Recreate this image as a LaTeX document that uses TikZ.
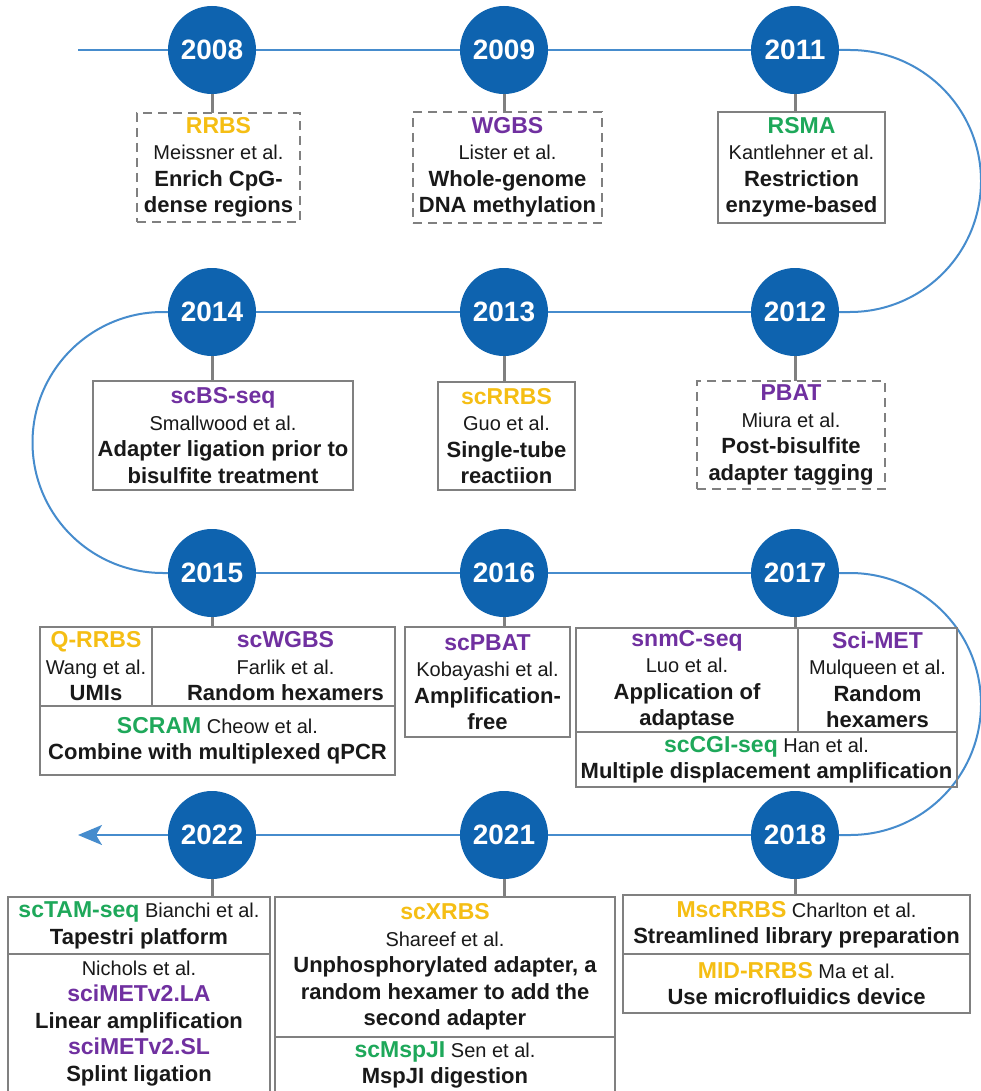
\documentclass[tikz,border=0pt]{standalone}
\usepackage{fontspec}
\setmainfont{Liberation Sans}
\usetikzlibrary{arrows.meta}
\definecolor{cblue}{RGB}{14,99,175}
\definecolor{cline}{RGB}{70,140,205}
\definecolor{cyel}{RGB}{245,190,20}
\definecolor{cpur}{RGB}{112,48,160}
\definecolor{cgrn}{RGB}{30,168,90}
\definecolor{cgray}{RGB}{128,128,128}
\definecolor{ctext}{RGB}{25,25,25}
\newcommand{\mtl}[2]{{\fontsize{23}{26.5}\selectfont\bfseries\color{#1}#2}}
\newcommand{\mds}[1]{{\fontsize{22}{26.5}\selectfont\bfseries #1}}
\begin{document}
\begin{tikzpicture}[x=1pt,y=-1pt,
  yr/.style={circle, fill=cblue, minimum size=88pt, inner sep=0pt, text=white,
    font=\fontsize{28}{30}\selectfont\bfseries},
  cellbox/.style={draw=cgray, line width=2.5pt, inner sep=1pt, outer sep=0pt, align=center,
    anchor=north west, font=\fontsize{20}{26.5}\selectfont, text=ctext},
  dbox/.style={cellbox, dash pattern=on 9pt off 6pt},
  tl/.style={draw=cline, line width=2pt},
  stem/.style={draw=cgray, line width=3pt}]
\useasboundingbox (0,0) rectangle (981,1091);
\clip (0,0) rectangle (981,1091);
\fill[white] (0,0) rectangle (981,1091);

% year circles
\node[yr] (c2008) at (212,50) {2008};
\node[yr] (c2009) at (504,50) {2009};
\node[yr] (c2011) at (795,50) {2011};
\node[yr] (c2014) at (212,312) {2014};
\node[yr] (c2013) at (504,312) {2013};
\node[yr] (c2012) at (795,312) {2012};
\node[yr] (c2015) at (212,573) {2015};
\node[yr] (c2016) at (504,573) {2016};
\node[yr] (c2017) at (795,573) {2017};
\node[yr] (c2022) at (212,835) {2022};
\node[yr] (c2021) at (504,835) {2021};
\node[yr] (c2018) at (795,835) {2018};

% timeline coordinates
\coordinate (start) at (78,50);
\coordinate (r1) at (850,50);
\coordinate (l1) at (163,312);
\coordinate (r2) at (850,573);
\coordinate (arrowend) at (78,835);

% timeline
\draw[tl] (start) -- (c2008);
\draw[tl] (c2008) -- (c2009);
\draw[tl] (c2009) -- (c2011);
\draw[tl] (c2011.east) -- (r1) arc[start angle=90, end angle=-90, radius=131pt] -- (c2012.east);
\draw[tl] (c2012) -- (c2013);
\draw[tl] (c2013) -- (c2014);
\draw[tl] (c2014.west) -- (l1) arc[start angle=90, end angle=270, radius=130.5pt] -- (c2015.west);
\draw[tl] (c2015) -- (c2016);
\draw[tl] (c2016) -- (c2017);
\draw[tl] (c2017.east) -- (r2) arc[start angle=90, end angle=-90, radius=131pt] -- (c2018.east);
\draw[tl] (c2018) -- (c2021);
\draw[tl] (c2021) -- (c2022);
\draw[tl, -{Stealth[length=24pt, width=20pt, inset=6pt]}] (c2022) -- (arrowend);

% boxes row 1
\node[dbox, minimum width=163pt, minimum height=109pt] (bRRBS) at (137,113)
  {\mtl{cyel}{RRBS}\\Meissner et al.\\\mds{Enrich CpG-}\\\mds{dense regions}};
\node[dbox, minimum width=189pt, minimum height=111pt] (bWGBS) at (413,112)
  {\mtl{cpur}{WGBS}\\Lister et al.\\\mds{Whole-genome}\\\mds{DNA methylation}};
\node[cellbox, minimum width=167pt, minimum height=111pt] (bRSMA) at (718,112)
  {\mtl{cgrn}{RSMA}\\Kantlehner et al.\\\mds{Restriction}\\\mds{enzyme-based}};

% row 2
\node[cellbox, minimum width=260pt, minimum height=109pt] (bscBS) at (93,381)
  {\mtl{cpur}{scBS-seq}\\Smallwood et al.\\\mds{Adapter ligation prior to}\\\mds{bisulfite treatment}};
\node[cellbox, minimum width=137pt, minimum height=108pt] (bscRRBS) at (438,382)
  {\mtl{cyel}{scRRBS}\\Guo et al.\\\mds{Single-tube}\\\mds{reactiion}};
\node[dbox, minimum width=188pt, minimum height=108pt] (bPBAT) at (697,381)
  {\mtl{cpur}{PBAT}\\Miura et al.\\\mds{Post-bisulfite}\\\mds{adapter tagging}};

% row 3
\node[cellbox, minimum width=112pt, minimum height=79pt] (bQRRBS) at (40,627)
  {\mtl{cyel}{Q-RRBS}\\Wang et al.\\\mds{UMIs}};
\node[cellbox, minimum width=243pt, minimum height=79pt] (bscWGBS) at (152,627)
  {\hspace*{24pt}\mtl{cpur}{scWGBS}\\\hspace*{24pt}Farlik et al.\\\hspace*{24pt}\mds{Random hexamers}};
\node[cellbox, minimum width=355pt, minimum height=69pt] (bSCRAM) at (40,706)
  {\mtl{cgrn}{SCRAM} Cheow et al.\\\mds{Combine with multiplexed qPCR}};
\node[cellbox, minimum width=165pt, minimum height=110pt] (bscPBAT) at (405,627)
  {\mtl{cpur}{scPBAT}\\Kobayashi et al.\\\mds{Amplification-}\\\mds{free}};
\node[cellbox, minimum width=222pt, minimum height=104pt] (bsnmC) at (576,628)
  {\mtl{cpur}{snmC-seq}\\Luo et al.\\\mds{Application of}\\\mds{adaptase}};
\node[cellbox, minimum width=159pt, minimum height=104pt] (bSciMET) at (798,628)
  {\mtl{cpur}{Sci-MET}\\Mulqueen et al.\\\mds{Random}\\\mds{hexamers}};
\node[cellbox, minimum width=381pt, minimum height=55pt] (bscCGI) at (576,732)
  {\mtl{cgrn}{scCGI-seq} Han et al.\\\mds{Multiple displacement amplification}};

% row 4
\node[cellbox, minimum width=347pt, minimum height=59pt] (bMscRRBS) at (623,895)
  {\mtl{cyel}{MscRRBS} Charlton et al.\\\mds{Streamlined library preparation}};
\node[cellbox, minimum width=347pt, minimum height=59pt] (bMIDRRBS) at (623,954)
  {\mtl{cyel}{MID-RRBS} Ma et al.\\\mds{Use microfluidics device}};
\node[cellbox, minimum width=262pt, minimum height=57pt] (bscTAM) at (8,897)
  {\mtl{cgrn}{scTAM-seq} Bianchi et al.\\\mds{Tapestri platform}};
\node[cellbox, minimum width=262pt, minimum height=139pt] (bNichols) at (8,954)
  {Nichols et al.\\\mtl{cpur}{sciMETv2.LA}\\\mds{Linear amplification}\\\mtl{cpur}{sciMETv2.SL}\\\mds{Splint ligation}};
\node[cellbox, minimum width=340pt, minimum height=140pt] (bscXRBS) at (275,897)
  {\mtl{cyel}{scXRBS}\\Shareef et al.\\\mds{Unphosphorylated adapter, a}\\\mds{random hexamer to add the}\\\mds{second adapter}};
\node[cellbox, minimum width=340pt, minimum height=56pt] (bscMspJI) at (275,1037)
  {\mtl{cgrn}{scMspJI} Sen et al.\\\mds{MspJI digestion}};

% stems
\draw[stem] (c2008) -- (c2008 |- bRRBS.north);
\draw[stem] (c2009) -- (c2009 |- bWGBS.north);
\draw[stem] (c2011) -- (c2011 |- bRSMA.north);
\draw[stem] (c2014) -- (c2014 |- bscBS.north);
\draw[stem] (c2013) -- (c2013 |- bscRRBS.north);
\draw[stem] (c2012) -- (c2012 |- bPBAT.north);
\draw[stem] (c2015) -- (c2015 |- bscWGBS.north);
\draw[stem] (c2016) -- (c2016 |- bscPBAT.north);
\draw[stem] (c2017) -- (c2017 |- bsnmC.north);
\draw[stem] (c2022) -- (c2022 |- bscTAM.north);
\draw[stem] (c2021) -- (c2021 |- bscXRBS.north);
\draw[stem] (c2018) -- (c2018 |- bMscRRBS.north);
\end{tikzpicture}
\end{document}
